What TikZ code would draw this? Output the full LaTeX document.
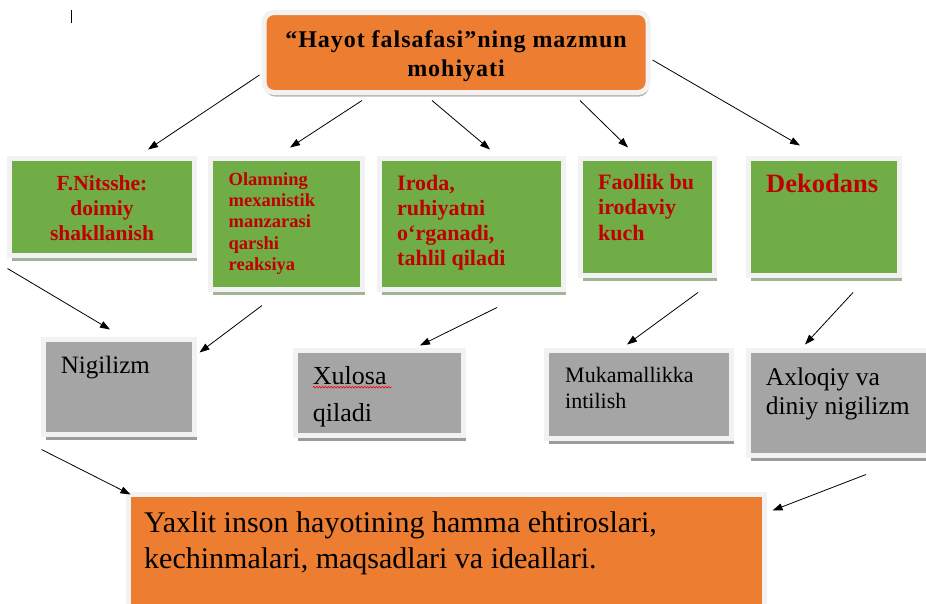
\documentclass[tikz,border=0pt]{standalone}
\usepackage{fontspec}
\setmainfont{Liberation Serif}
\newfontfamily\titlefont{Liberation Serif}[LetterSpace=4]
\usepackage{tikz}
\usetikzlibrary{positioning}
\usetikzlibrary{arrows.meta}
\usetikzlibrary{shadows}
\usetikzlibrary{decorations.pathmorphing}
\usepackage{xcolor}

\definecolor{boxorange}{HTML}{ED7D31}
\definecolor{boxgreen}{HTML}{70AD47}
\definecolor{boxgray}{HTML}{A5A5A5}
\definecolor{textred}{HTML}{C00000}
\definecolor{framegray}{HTML}{F2F2F2}
\definecolor{shadowgreen}{HTML}{A2B497}
\definecolor{shadowgray}{HTML}{9C9C9C}
\definecolor{shadoworange}{HTML}{C2B4AA}

\begin{document}
\begin{tikzpicture}[x=1pt, y=-1pt,
    frame/.style={draw=framegray, line width=5pt, rectangle, inner sep=0pt},
    greenbox/.style={frame, fill=boxgreen, general shadow={fill=shadowgreen, shadow xshift=2pt, shadow yshift=-5pt}},
    graybox/.style={frame, fill=boxgray, general shadow={fill=shadowgray, shadow xshift=2pt, shadow yshift=-5pt}},
    orangebox/.style={frame, fill=boxorange},
    redtext/.style={inner sep=0pt, text=textred, align=left, anchor=north west},
    blacktext/.style={inner sep=0pt, align=left, anchor=north west},
    arr/.style={-{Triangle[length=10pt, width=7pt]}, line width=0.8pt},
    spell/.style={draw=red, line width=0.6pt, decorate, decoration={snake, amplitude=0.8pt, segment length=3pt}}
]
    % Page
    \path[use as bounding box, fill=white] (0,0) rectangle (926,603);
    \clip (0,0) rectangle (926,603);
    \draw[line width=0.8pt] (71,10) -- (71,23);

    % Top box
    \node (title) [orangebox, rounded corners=10pt, general shadow={fill=shadoworange, shadow xshift=1pt, shadow yshift=-4pt}, minimum width=384pt, minimum height=80pt] at (456,52.5) {};
    \node (titletext) [inner sep=0pt, align=center, anchor=north, font=\titlefont\fontsize{24}{29}\selectfont\bfseries] at (456,30.5) {“Hayot falsafasi”ning mazmun\\mohiyati};

    % Green boxes
    \node (g1) [greenbox, minimum width=185pt, minimum height=97pt] at (102,207) {};
    \node (g2) [greenbox, minimum width=152pt, minimum height=131pt] at (286.5,224) {};
    \node (g3) [greenbox, minimum width=184pt, minimum height=131pt] at (471.5,224) {};
    \node (g4) [greenbox, minimum width=134pt, minimum height=117pt] at (647.5,217) {};
    \node (g5) [greenbox, minimum width=151pt, minimum height=117pt] at (824,217) {};

    \node (g1text) [redtext, align=center, anchor=north, font=\fontsize{21.5}{25}\selectfont\bfseries] at (102,175.2) {F.Nitsshe:\\doimiy\\shakllanish};
    \node (g2text) [redtext, font=\fontsize{18.5}{21.2}\selectfont\bfseries] at (228.5,172.4) {Olamning\\mexanistik\\manzarasi\\qarshi\\reaksiya};
    \node (g3text) [redtext, font=\fontsize{22}{25}\selectfont\bfseries] at (397,175) {Iroda,\\ruhiyatni\\o‘rganadi,\\tahlil qiladi};
    \node (g4text) [redtext, font=\fontsize{22}{25.5}\selectfont\bfseries] at (598,174) {Faollik bu\\irodaviy\\kuch};
    \node (g5text) [redtext, font=\fontsize{26.5}{30}\selectfont\bfseries] at (766,173.7) {Dekodans};

    % Gray boxes
    \node (n1) [graybox, minimum width=151pt, minimum height=95pt] at (119,387) {};
    \node (n2) [graybox, minimum width=168pt, minimum height=85pt] at (379.5,393) {};
    \node (n3) [graybox, minimum width=185pt, minimum height=88pt] at (639,394.5) {};
    \node (n4) [graybox, minimum width=194pt, minimum height=105pt] at (845.5,403) {};

    \node (n1text) [blacktext, font=\fontsize{25}{30}\selectfont] at (60.7,356.2) {Nigilizm};
    \node (n2text) [blacktext, font=\fontsize{26}{37.5}\selectfont] at (312.7,366.2) {Xulosa\\qiladi};
    \node (n3text) [blacktext, font=\fontsize{22}{26.7}\selectfont] at (565,366.7) {Mukamallikka\\intilish};
    \node (n4text) [blacktext, font=\fontsize{25.5}{29}\selectfont] at (765.7,367.2) {Axloqiy va\\diniy nigilizm};
    \draw[spell] ([yshift=-21pt]n2text.north west) -- ++(79,0);

    % Bottom box
    \node (bottom) [orangebox, minimum width=636pt, minimum height=158pt] at (446.5,573.5) {};
    \node (bottomtext) [blacktext, font=\fontsize{30}{35.7}\selectfont] at (144,511.5) {Yaxlit inson hayotining hamma ehtiroslari,\\kechinmalari, maqsadlari va ideallari.};

    % Arrows
    \draw[arr] ([xshift=-2pt,yshift=-22.5pt]title.west) -- ([xshift=46pt,yshift=6.5pt]g1.north);
    \draw[arr] ([xshift=-94pt,yshift=-5.5pt]title.south) -- ([xshift=3.5pt,yshift=8.5pt]g2.north);
    \draw[arr] ([xshift=-24pt,yshift=-5.5pt]title.south) -- ([xshift=18.5pt,yshift=6.5pt]g3.north);
    \draw[arr] ([xshift=124pt,yshift=-5.5pt]title.south) -- ([xshift=-19.5pt,yshift=8.5pt]g4.north);
    \draw[arr] ([xshift=2pt,yshift=-7.5pt]title.east) -- ([xshift=-24pt,yshift=10.5pt]g5.north);

    \draw[arr] ([xshift=0.5pt,yshift=-10.5pt]g1.south west) -- ([xshift=-9pt,yshift=7.5pt]n1.north);
    \draw[arr] ([xshift=-24.5pt,yshift=-13.5pt]g2.south) -- ([xshift=2.5pt,yshift=-15.5pt]n1.north east);
    \draw[arr] ([xshift=25.5pt,yshift=-15.5pt]g3.south) -- ([xshift=40.5pt,yshift=2.5pt]n2.north);
    \draw[arr] ([xshift=50.5pt,yshift=-14.5pt]g4.south) -- ([xshift=-12pt,yshift=3.5pt]n3.north);
    \draw[arr] ([xshift=29pt,yshift=-14.5pt]g5.south) -- ([xshift=-40.5pt,yshift=3.5pt]n4.north);

    \draw[arr] ([xshift=0.5pt,yshift=-12.5pt]n1.south west) -- ([xshift=4.5pt,yshift=-2.5pt]bottom.north west);
    \draw[arr] ([xshift=20.5pt,yshift=-16.5pt]n4.south) -- ([xshift=5.5pt,yshift=-18.5pt]bottom.north east);
\end{tikzpicture}
\end{document}
